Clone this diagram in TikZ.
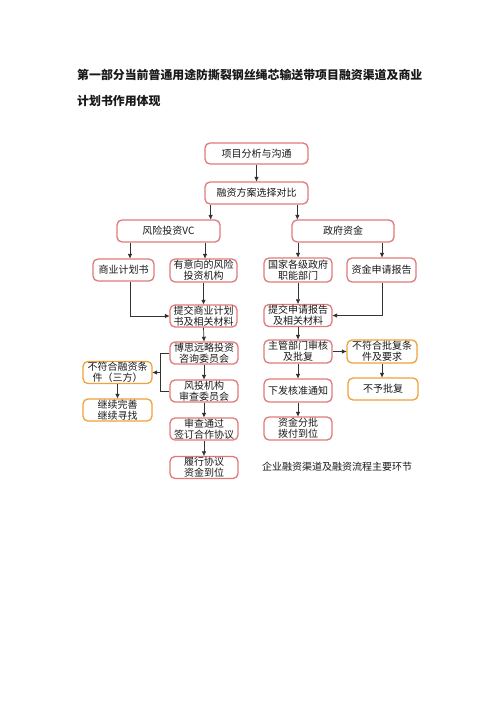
\documentclass[tikz,border=0pt]{standalone}
\usepackage{fontspec}
\setmainfont{Noto Sans CJK SC}
\usetikzlibrary{arrows.meta}
\definecolor{pinkline}{HTML}{E07A7A}
\definecolor{orangeline}{HTML}{EFA23A}
\definecolor{arrowc}{HTML}{333333}
\tikzset{
  box/.style={draw=pinkline, line width=1.3pt, rounded corners=5pt, fill=white,
    align=center, inner sep=1pt, font=\fontsize{10}{10.8}\selectfont, text=black!90},
  obox/.style={box, draw=orangeline},
  arr/.style={draw=arrowc, line width=0.7pt, -{Triangle[length=4.5pt,width=4pt]}},
  ln/.style={draw=arrowc, line width=0.7pt}
}
\begin{document}
\begin{tikzpicture}[x=1pt,y=-1pt]
\useasboundingbox[fill=white] (0,0) rectangle (500,708);
\node[anchor=west, font=\fontsize{11.9}{14}\selectfont\bfseries, text=black!90, inner sep=0pt] (t1) at (77,75) {第一部分当前普通用途防撕裂钢丝绳芯输送带项目融资渠道及商业};
\node[anchor=west, font=\fontsize{11.9}{14}\selectfont\bfseries, text=black!90, inner sep=0pt] (t2) at (77,101) {计划书作用体现};

\node[box, minimum width=103pt, minimum height=21pt] (a) at (256.5,153.5) {项目分析与沟通};
\node[box, minimum width=103pt, minimum height=22pt] (b) at (256.5,193) {融资方案选择对比};
\node[box, minimum width=103pt, minimum height=22pt] (c) at (168.5,231) {风险投资VC};
\node[box, minimum width=102pt, minimum height=22pt] (d) at (343,231) {政府资金};

\node[box, minimum width=61pt, minimum height=22pt] (e) at (123.5,270) {商业计划书};
\node[box, minimum width=67pt, minimum height=23pt] (f) at (203.5,270.5) {有意向的风险\\投资机构};
\node[box, minimum width=67pt, minimum height=22pt] (g) at (203.5,316) {提交商业计划\\书及相关材料};
\node[box, minimum width=68pt, minimum height=22pt] (h) at (204,353) {博思远略投资\\咨询委员会};
\node[box, minimum width=68pt, minimum height=22pt] (i) at (204,391) {风投机构\\审查委员会};
\node[box, minimum width=68pt, minimum height=22pt] (j) at (204,429) {审查通过\\签订合作协议};
\node[box, minimum width=68pt, minimum height=22pt] (k) at (204,467.5) {履行协议\\资金到位};
\node[obox, minimum width=69pt, minimum height=21pt] (l) at (117.5,372.5) {不符合融资条\\件（三方）};
\node[obox, minimum width=69pt, minimum height=22pt] (m) at (117.5,410) {继续完善\\继续寻找};

\node[box, minimum width=68pt, minimum height=24pt] (n) at (298,270) {国家各级政府\\职能部门};
\node[box, minimum width=69pt, minimum height=24pt] (o) at (381.5,270) {资金申请报告};
\node[box, minimum width=68pt, minimum height=21pt] (p) at (298,315.5) {提交申请报告\\及相关材料};
\node[box, minimum width=68pt, minimum height=23pt] (q) at (298,351.5) {主管部门审核\\及批复};
\node[obox, minimum width=70pt, minimum height=23pt] (r) at (382,351.5) {不符合批复条\\件及要求};
\node[obox, minimum width=70pt, minimum height=22pt] (s) at (383,389) {不予批复};
\node[box, minimum width=68pt, minimum height=23pt] (u1) at (298,390.5) {下发核准通知};
\node[box, minimum width=68pt, minimum height=23pt] (u2) at (298,428.5) {资金分批\\拨付到位};

\node[font=\fontsize{10}{11}\selectfont, text=black!90, inner sep=0pt] (cap) at (337,467) {企业融资渠道及融资流程主要环节};

% connectors
\draw[arr] (a.south) -- (b.north);
\draw[arr] (b.south -| c.north east) ++(-10,0) coordinate (bc1) -- (bc1 |- c.north);
\draw[arr] (b.south -| d.north west) ++(6,0) coordinate (bd1) -- (bd1 |- d.north);
\draw[arr] (c.south -| e.south) ++(6.5,0) coordinate (ce1) -- (ce1 |- e.north);
\draw[arr] (c.south -| f.south) ++(1.5,0) coordinate (cf1) -- (cf1 |- f.north);
\draw[arr] (f.south) -- (g.north);
\draw[arr] (e.south -| ce1) -- (ce1 |- g.west) -- (g.west);
\draw[arr] (g.south) -- (h.north);
\draw[arr] (h.south) -- (i.north);
\draw[arr] (i.south) -- (j.north);
\draw[arr] (j.south) -- (k.north);
\coordinate (br) at (160,0);
\draw[ln] (h.west) -- (br |- h.west) -- (br |- i.west) -- (i.west);
\draw[arr] (br |- l.east) -- (l.east);
\draw[arr] (l.south) -- (m.north);

\draw[arr] (d.south -| n.south) -- (n.north);
\draw[arr] (d.south -| o.south) ++(0.5,0) coordinate (do1) -- (do1 |- o.north);
\draw[arr] (n.south) -- (p.north);
\draw[arr] (o.south -| do1) -- (do1 |- p.east) -- (p.east);
\draw[arr] (p.south) -- (q.north);
\draw[arr] (q.east) -- (r.west);
\draw[arr] (r.south) -- (r.south |- s.north);
\draw[arr] (q.south) -- (u1.north);
\draw[arr] (u1.south) -- (u2.north);
\end{tikzpicture}
\end{document}
